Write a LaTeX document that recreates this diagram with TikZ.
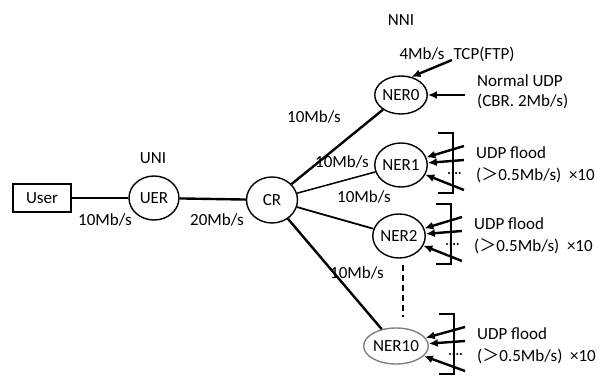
\documentclass[tikz,border=0pt]{standalone}
\usepackage{fontspec}
\setmainfont{Carlito}
\newfontfamily\cjk{Noto Sans CJK JP}
\usetikzlibrary{arrows.meta, positioning, shapes.geometric, calc}

\begin{document}
\begin{tikzpicture}[x=1pt, y=-1pt, node distance=1.5cm, font=\fontsize{17}{20}\selectfont]
\tikzstyle{host}=[rectangle, draw, line width=1.8pt, minimum width=58pt,
  minimum height=28pt, inner sep=0pt]
\tikzstyle{router}=[ellipse, draw, line width=1.4pt, minimum width=50pt,
  minimum height=44pt, inner sep=0pt]
\tikzstyle{link}=[line width=2.4pt]
\tikzstyle{flow}=[-{Latex[length=9pt,width=8pt]}, line width=2.4pt]
\tikzstyle{lbl}=[inner sep=0pt]

\clip (0,0) rectangle (603,379);

% access side
\node (user) [host] at (42,198) {User};
\node (UER) [router] at (154,198) {UER};
\node (CR) [router, minimum width=51pt, minimum height=46pt] at (272,200) {CR};
\node (uni) [lbl] at (153,158) {UNI};
\node (rUser) [lbl] at (105,220) {10Mb/s};
\node (rUER) [lbl] at (217,220) {20Mb/s};

\draw [link] (user) -- (UER);
\draw [link] (UER) -- (CR);

% network side
\node (NER0) [router, minimum height=38pt] at (401,95) {NER0};
\node (NER1) [router, minimum width=52pt] at (401,165) {NER1};
\node (NER2) [router, minimum width=49pt] at (399,236) {NER2};
\node (NER10) [router, draw=gray, minimum width=62pt, minimum height=36pt]
  at (396,346) {NER10};
\node (nni) [lbl] at (401,20) {NNI};

\draw [link] (CR) -- (NER0);
\draw [line width=1.5pt] (CR) -- (NER1);
\draw [line width=1.8pt] (CR) -- (NER2);
\draw [link] (CR) -- (NER10);

\node (r0) [lbl] at (314,117) {10Mb/s};
\node (r1) [lbl] at (342,162) {10Mb/s};
\node (r2) [lbl] at (364,197) {10Mb/s};
\node (r10) [lbl] at (357,273) {10Mb/s};

\coordinate (gapTop) at (403,265);
\coordinate (gapBot) at (403,317);
\draw [line width=1.8pt, dash pattern=on 6pt off 4pt] (gapTop) -- (gapBot);

% legitimate traffic into NER0
\coordinate (tcpSrc) at (452,60);
\coordinate (udpSrc) at (465,95);
\draw [flow] (tcpSrc) -- (NER0.60);
\draw [flow] (udpSrc) -- (NER0.east);
\node (tcpRate) [lbl] at (422,54) {4Mb/s};
\node (tcp) [lbl] at (484,54) {TCP(FTP)};
\node (udp) [lbl, anchor=west] at (477,81) {Normal UDP};
\node (cbr) [lbl, anchor=west] at (477,101) {(CBR. 2Mb/s)};

% attack traffic
\foreach \n in {1,2,10} {
  \draw [flow] ($(NER\n.east)+(36,-19)$) -- (NER\n);
  \draw [flow] ($(NER\n.east)+(36,-5)$) -- (NER\n);
  \draw [flow] ($(NER\n.east)+(36,25)$) -- (NER\n);
  \draw [line width=1.6pt] ($(NER\n.east)+(10,-32)$) -- ++(15,0) -- ++(0,60) -- ++(-15,0);
  \foreach \k in {0,...,3}
    \fill ($(NER\n.east)+(21+3.6*\k,8)$) circle (1.2pt);
  \node (flood\n) [lbl, anchor=west] at ($(NER\n.east)+(48,-12)$) {UDP flood};
  \node (rate\n) [lbl, anchor=west] at ($(NER\n.east)+(48,10)$)
    {({\cjk ＞}0.5Mb/s)\ \ ×10};
}
\end{tikzpicture}
\end{document}
